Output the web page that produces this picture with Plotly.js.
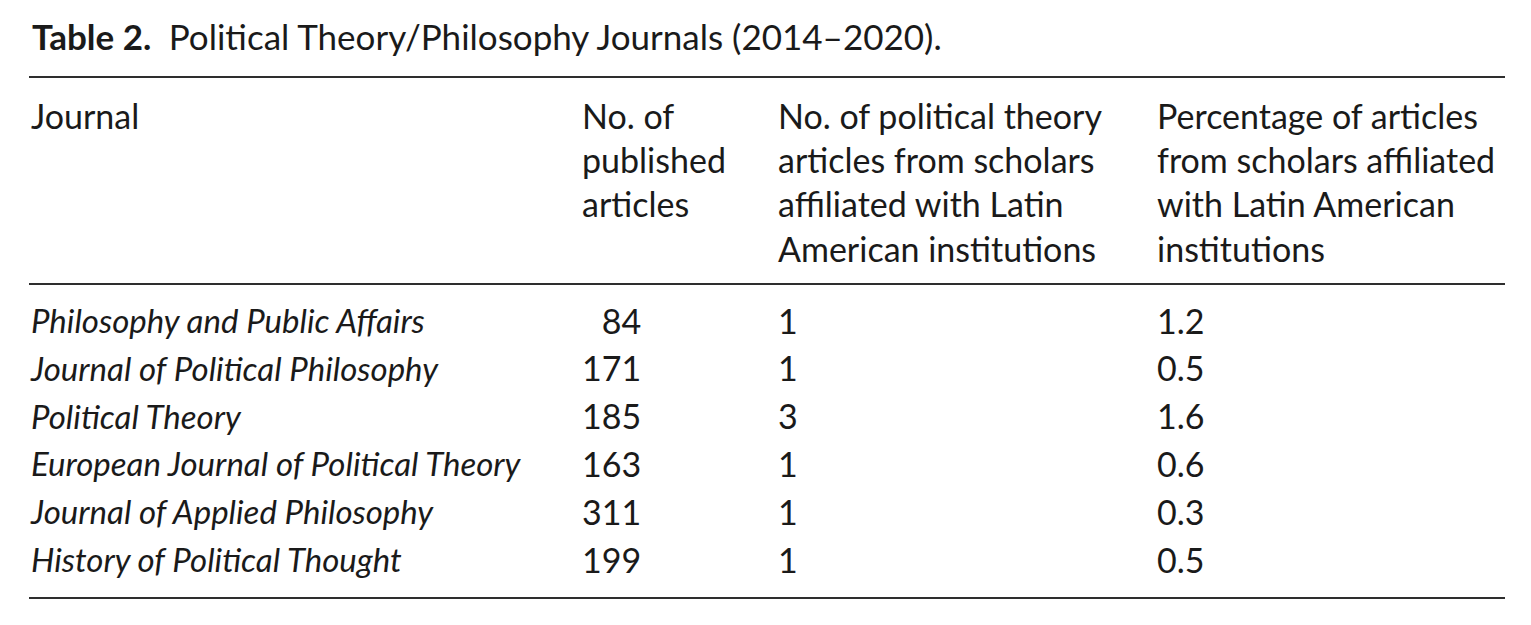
<!DOCTYPE html>
<html><head><meta charset="utf-8">
<script src="https://cdn.plot.ly/plotly-3.0.1.min.js"></script>
<style>html,body{margin:0;padding:0;background:#fff}</style>
</head><body>
<div id="chart" style="width:1531px;height:625px"></div>
<script>
// ---- data ----
const tableTitle = "Table 2.";
const tableSubtitle = "Political Theory/Philosophy Journals (2014–2020).";
const headerLabels = [
  "<span>Journal</span>",
  "No. of<br>published<br>articles",
  "No. of political theory<br>articles from scholars<br>affiliated with Latin<br>American institutions",
  "Percentage of articles<br>from scholars affiliated<br>with Latin American<br>institutions"
];
const journals = [
  "Philosophy and Public Affairs",
  "Journal of Political Philosophy",
  "Political Theory",
  "European Journal of Political Theory",
  "Journal of Applied Philosophy",
  "History of Political Thought"
];
const publishedArticles = [84, 171, 185, 163, 311, 199];
const latinAmericanArticles = [1, 1, 3, 1, 1, 1];
const percentLatinAmerican = [1.2, 0.5, 1.6, 0.6, 0.3, 0.5];

// ---- formatting ----
const FS = 34;
const fontFam = "Lato, 'Open Sans', sans-serif";
const txt = "#1a1a1a";
const pad3 = v => { const s = String(v); return "\u2007".repeat(Math.max(0, 3 - s.length)) + s; };

const cellValues = [
  journals,
  publishedArticles.map(pad3),
  latinAmericanArticles.map(String),
  percentLatinAmerican.map(v => v.toFixed(1))
];

const W = 1531, H = 625;
const mL = 23, mR = 26, mT = 87, mB = 0;
const px = x => (x - mL) / (W - mL - mR);
const py = y => 1 - (y - mT) / (H - mT - mB);
const rule = y => ({type: "line", xref: "paper", yref: "paper",
  x0: px(29), x1: px(1505), y0: py(y), y1: py(y),
  line: {color: "#2e2e2e", width: 2}});

const trace = {
  type: "table",
  columnwidth: [551, 196, 379, 356],
  header: {
    values: headerLabels,
    align: "left",
    height: 213,
    line: {width: 0, color: "rgba(0,0,0,0)"},
    fill: {color: "rgba(0,0,0,0)"},
    font: {family: fontFam, size: FS, color: txt}
  },
  cells: {
    values: cellValues,
    align: "left",
    height: 47.9,
    line: {width: 0, color: "rgba(0,0,0,0)"},
    fill: {color: "rgba(0,0,0,0)"},
    font: {family: fontFam, size: [33, FS, FS, FS], color: txt,
           style: ["italic", "normal", "normal", "normal"]}
  }
};

const layout = {
  width: W, height: H,
  margin: {l: mL, r: mR, t: mT, b: mB, pad: 0},
  paper_bgcolor: "#ffffff",
  title: {
    text: "<b>" + tableTitle + "</b>\u2002" + tableSubtitle,
    x: 32 / W, xref: "container", xanchor: "left",
    y: 1 - 38 / H, yref: "container", yanchor: "middle",
    font: {family: fontFam, size: 35, color: txt}
  },
  shapes: [rule(77), rule(284), rule(598)]
};

Plotly.newPlot("chart", [trace], layout, {displayModeBar: false, staticPlot: true});
</script>
</body></html>
